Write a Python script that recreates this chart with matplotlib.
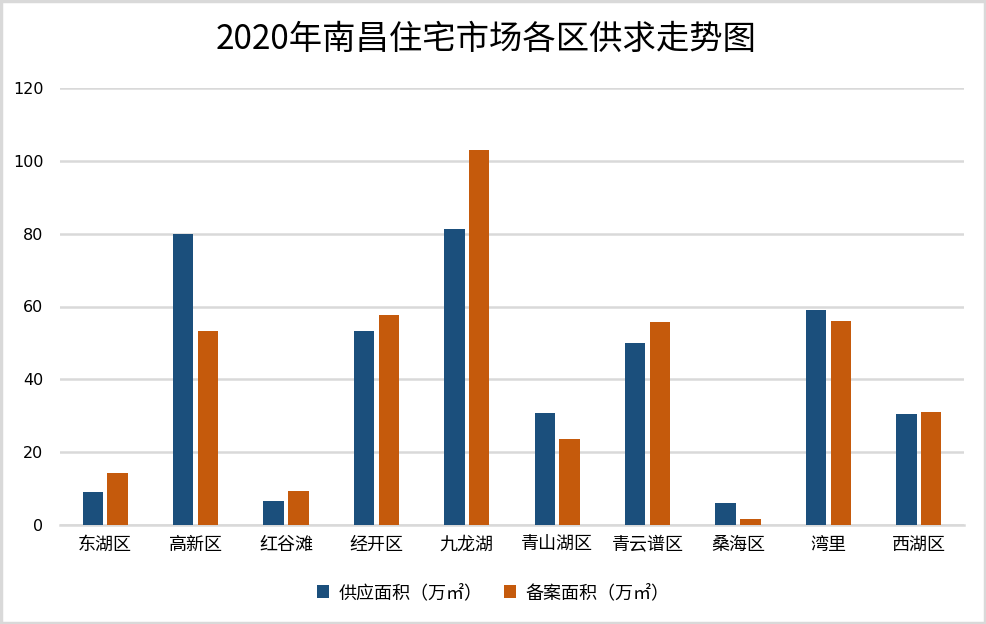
import matplotlib
matplotlib.use("Agg")
import matplotlib.pyplot as plt
import numpy as np
from matplotlib.patches import Rectangle

plt.rcParams['font.family'] = ['Noto Sans CJK SC', 'DejaVu Sans']

categories = ["东湖区", "高新区", "红谷滩", "经开区", "九龙湖", "青山湖区", "青云谱区", "桑海区", "湾里", "西湖区"]
supply = [9.1, 80.0, 6.6, 53.3, 81.3, 30.8, 50.0, 6.0, 59.1, 30.5]
filed = [14.3, 53.3, 9.3, 57.7, 103.0, 23.6, 55.8, 1.6, 56.0, 31.0]
series_names = ["供应面积（万㎡）", "备案面积（万㎡）"]
yticks = [0, 20, 40, 60, 80, 100, 120]
title = "2020年南昌住宅市场各区供求走势图"

blue = "#1B4F7C"
orange = "#C55A0C"
grid_c = "#D9D9D9"

fig = plt.figure(figsize=(9.86, 6.24), dpi=100)
fig.patch.set_facecolor("white")
fig.add_artist(Rectangle((0.0015, 0.002), 0.997, 0.996, transform=fig.transFigure,
                         fill=False, edgecolor="#D9D9D9", linewidth=2.5))

ax = fig.add_axes([60/986, 1-525/624, (964-60)/986, (525-88)/624])
x = np.arange(len(categories))
w = 0.225
gap = 0.05
ax.bar(x - (w+gap)/2, supply, width=w, color=blue, label=series_names[0], zorder=3)
ax.bar(x + (w+gap)/2, filed, width=w, color=orange, label=series_names[1], zorder=3)

ax.set_xlim(-0.5, len(categories)-0.5)
ax.set_ylim(0, 120)
ax.set_yticks(yticks)
ax.set_yticklabels([str(v) for v in yticks], fontsize=11.5, family=['DejaVu Sans'])
ax.set_xticks(x)
ax.set_xticklabels(categories, fontsize=13)
ax.tick_params(axis='both', length=0, colors="#000000")
ax.tick_params(axis='y', pad=12)
ax.tick_params(axis='x', pad=8)
ax.yaxis.grid(True, color=grid_c, linewidth=1.8, zorder=0)
for s in ["top", "right", "left"]:
    ax.spines[s].set_visible(False)
ax.spines["bottom"].set_color(grid_c)
ax.spines["bottom"].set_linewidth(1.8)

fig.text(0.4935, 1-39/624, title, ha="center", va="center", fontsize=24, color="#000000")

fig.legend(loc="center", bbox_to_anchor=(0.5, 1-593/624), ncol=2, frameon=False,
           fontsize=13, handlelength=0.7, handleheight=0.7, handletextpad=0.5,
           columnspacing=1.2)

fig.savefig("out.png", dpi=100, facecolor="white")
